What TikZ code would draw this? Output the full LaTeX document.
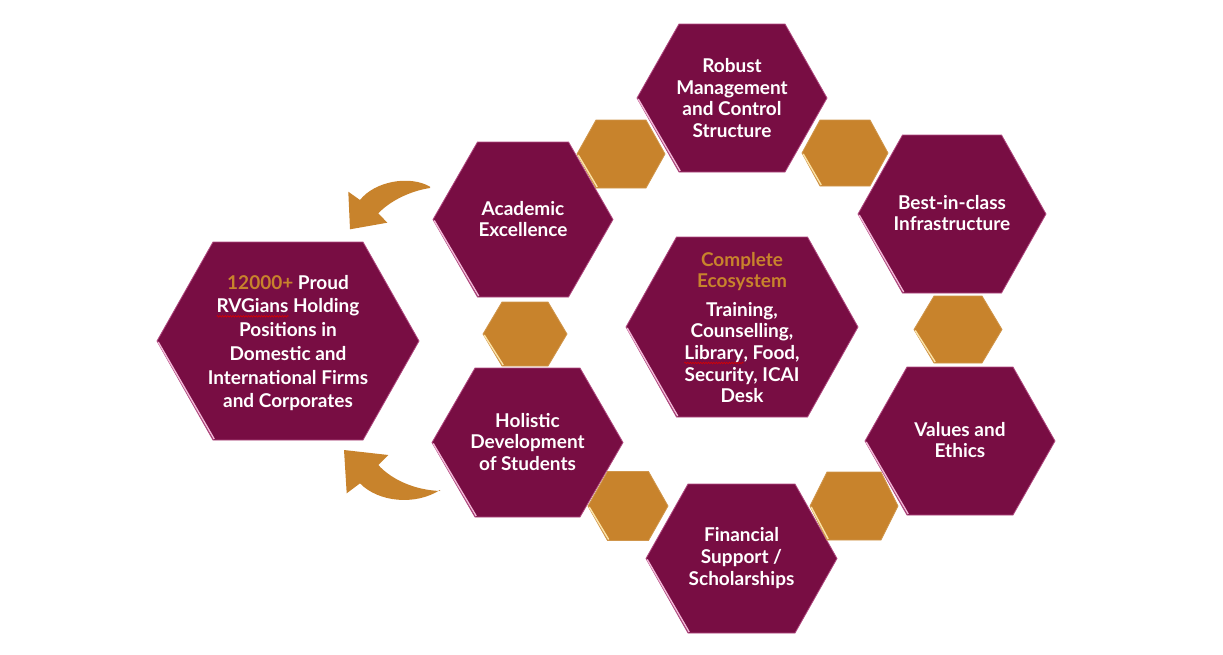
\documentclass[tikz,border=0pt]{standalone}
\usepackage{fontspec}
\setmainfont{Lato}
\usetikzlibrary{decorations.pathmorphing}
\definecolor{maroon}{HTML}{780D43}
\definecolor{goldc}{HTML}{C8832C}
\definecolor{pinkedge}{HTML}{F2B6D6}
\definecolor{pinkline}{HTML}{B04A80}
\definecolor{yeledge}{HTML}{FBE3A8}
\newsavebox{\wavebox}
\newcommand\redwave[1]{\sbox{\wavebox}{#1}\mbox{\usebox{\wavebox}\tikz[overlay]\draw[red!85!black,line width=0.6pt,decorate,decoration={snake,amplitude=0.8pt,segment length=2.6pt}] (-\the\wd\wavebox,-3.4pt) -- (0pt,-3.4pt);}}
% #1 fill, #2 edge, #3 highlight, #4 cx, #5 cy, #6 half width, #7 half top, #8 half height
\newcommand{\hexg}[8]{%
  \fill[#1] (#4-#6,#5) -- (#4-#7,#5-#8) -- (#4+#7,#5-#8) -- (#4+#6,#5) -- (#4+#7,#5+#8) -- (#4-#7,#5+#8) -- cycle;
  \draw[#2,line width=0.8] (#4-#6,#5) -- (#4-#7,#5-#8) -- (#4+#7,#5-#8) -- (#4+#6,#5) -- (#4+#7,#5+#8) -- (#4-#7,#5+#8) -- cycle;
  \draw[#3,line width=1.4] (#4-#6+1.2,#5+1) -- (#4-#7+1.2,#5+#8-1);
}
\tikzset{
  hextext/.style={text=white, align=center, font=\bfseries\fontsize{19}{21.6}\selectfont},
  arrowfill/.style={fill=goldc}
}
\begin{document}
\begin{tikzpicture}[x=1pt,y=-1pt]
\useasboundingbox (0,0) rectangle (1223,654);
% maroon hexagons
\hexg{maroon}{pinkline}{pinkedge}{288}{341}{131}{75}{99}
\hexg{maroon}{pinkline}{pinkedge}{732}{98}{95}{53}{74}
\hexg{maroon}{pinkline}{pinkedge}{523}{219.5}{90}{45.5}{77.5}
\hexg{maroon}{pinkline}{pinkedge}{527.5}{442.5}{95.5}{52.5}{74.5}
\hexg{maroon}{pinkline}{pinkedge}{952}{214}{94}{49.5}{79}
\hexg{maroon}{pinkline}{pinkedge}{960}{441}{95}{53}{74}
\hexg{maroon}{pinkline}{pinkedge}{741.5}{558.5}{95.5}{53.5}{74.5}
\hexg{maroon}{pinkline}{pinkedge}{742}{327}{116}{65.5}{90}
% gold hexagons
\hexg{goldc}{goldc!85!white}{yeledge}{621}{154}{44}{25}{34}
\hexg{goldc}{goldc!85!white}{yeledge}{845}{153}{43}{25}{33}
\hexg{goldc}{goldc!85!white}{yeledge}{525}{334}{42}{23}{32}
\hexg{goldc}{goldc!85!white}{yeledge}{958}{329.5}{44}{24}{33.5}
\hexg{goldc}{goldc!85!white}{yeledge}{628}{506}{40}{20.5}{34.5}
\hexg{goldc}{goldc!85!white}{yeledge}{854}{506}{44}{27}{34}
% texts
\node[hextext, font=\bfseries\fontsize{19}{23.7}\selectfont] (big) at (288,343)
  {\textcolor{goldc}{12000+} Proud\\\redwave{RVGians} Holding\\Positions in\\Domestic and\\International Firms\\and Corporates};
\node[hextext] (robust) at (732,98) {Robust\\Management\\and Control\\Structure};
\node[hextext] (acad) at (523,219) {Academic\\Excellence};
\node[hextext] (holis) at (527.5,442) {Holistic\\Development\\of Students};
\node[hextext] (best) at (952,213) {Best-in-class\\Infrastructure};
\node[hextext] (values) at (960,440) {Values and\\Ethics};
\node[hextext] (fin) at (741.5,558) {Financial\\Support /\\Scholarships};
\node[hextext] (eco) at (742,327.5) {\textcolor{goldc}{Complete}\\\textcolor{goldc}{Ecosystem}\\[7pt]Training,\\Counselling,\\\redwave{Library}, Food,\\Security, ICAI\\Desk};
% curved arrows
\fill[arrowfill] (430,186.7) .. controls (410,175) and (375,181) .. (360,200)
  -- (348.3,191.7) -- (350,229.3) -- (387.3,222.7) -- (378.3,213.3)
  .. controls (390,201) and (410,191) .. (430,188) -- cycle;
\fill[arrowfill] (440,490) .. controls (415,506) and (378,502) .. (360,483.3)
  -- (346.7,493.3) -- (344,450) -- (388.3,455) -- (378.3,465)
  .. controls (392,480) and (415,490) .. (440,491) -- cycle;
\end{tikzpicture}
\end{document}
